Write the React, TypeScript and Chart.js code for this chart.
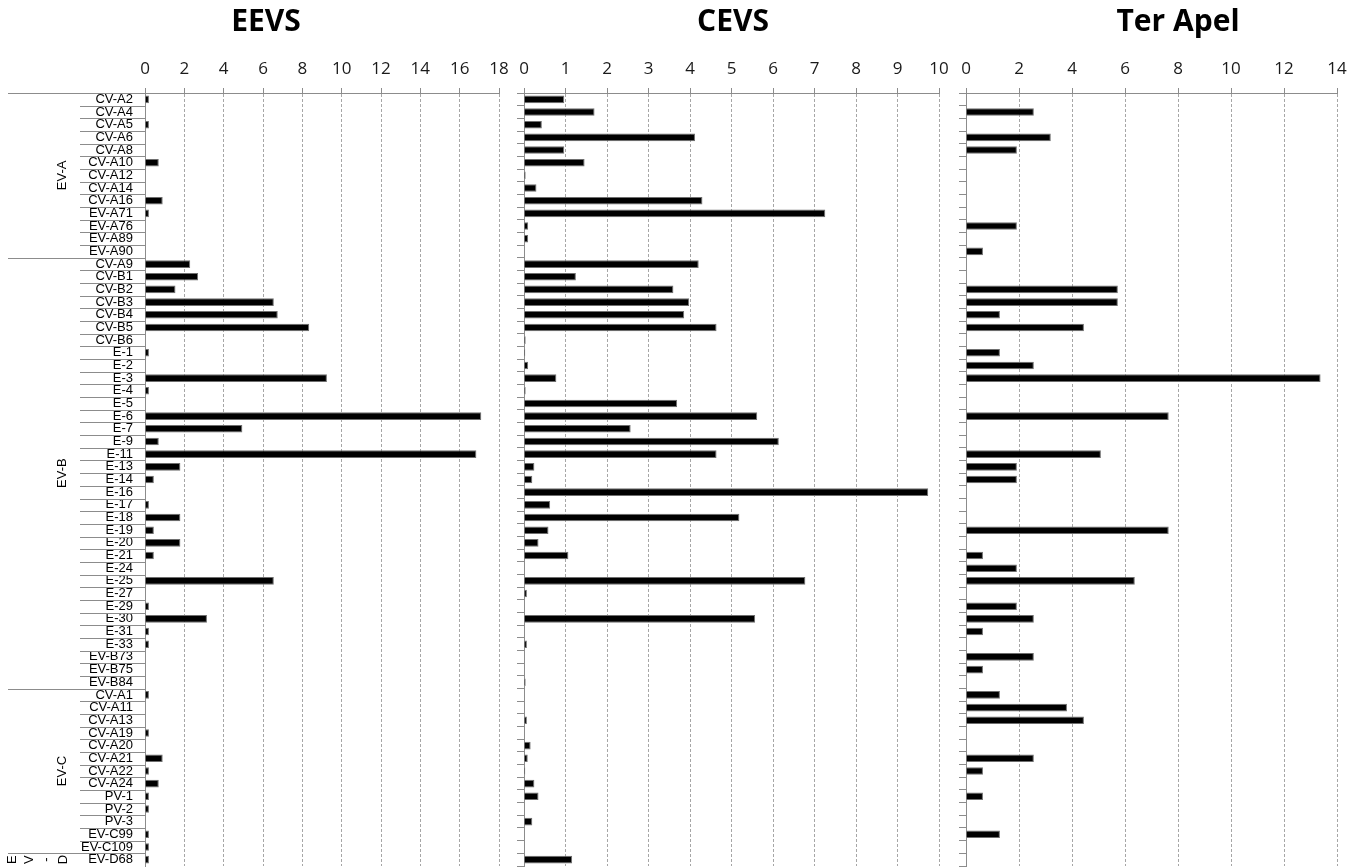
import React, { useEffect, useRef } from 'react';
import { Chart, registerables } from 'chart.js';

Chart.register(...registerables);

const categories = [
  'CV-A2', 'CV-A4', 'CV-A5', 'CV-A6', 'CV-A8', 'CV-A10', 'CV-A12', 'CV-A14', 'CV-A16', 'EV-A71', 'EV-A76', 'EV-A89', 'EV-A90',
  'CV-A9', 'CV-B1', 'CV-B2', 'CV-B3', 'CV-B4', 'CV-B5', 'CV-B6', 'E-1', 'E-2', 'E-3', 'E-4', 'E-5', 'E-6', 'E-7', 'E-9', 'E-11',
  'E-13', 'E-14', 'E-16', 'E-17', 'E-18', 'E-19', 'E-20', 'E-21', 'E-24', 'E-25', 'E-27', 'E-29', 'E-30', 'E-31', 'E-33',
  'EV-B73', 'EV-B75', 'EV-B84',
  'CV-A1', 'CV-A11', 'CV-A13', 'CV-A19', 'CV-A20', 'CV-A21', 'CV-A22', 'CV-A24', 'PV-1', 'PV-2', 'PV-3', 'EV-C99', 'EV-C109',
  'EV-D68',
];

const groupNames = ['EV-A', 'EV-B', 'EV-C', 'EV-D'];
const groupSizes = [13, 34, 13, 1];

const eevsValues = [
  0.2, 0, 0.2, 0, 0, 0.7, 0, 0, 0.9, 0.2, 0, 0, 0,
  2.3, 2.7, 1.55, 6.55, 6.75, 8.35, 0, 0.2, 0, 9.25, 0.2, 0, 17.1, 4.95, 0.7, 16.85,
  1.8, 0.45, 0, 0.2, 1.8, 0.45, 1.8, 0.45, 0, 6.55, 0, 0.2, 3.15, 0.2, 0.2,
  0, 0, 0,
  0.2, 0, 0, 0.2, 0, 0.9, 0.2, 0.7, 0.2, 0.2, 0, 0.2, 0.2,
  0.2,
];

const cevsValues = [
  0.97, 1.7, 0.43, 4.12, 0.97, 1.46, 0.04, 0.3, 4.3, 7.26, 0.1, 0.1, 0,
  4.21, 1.25, 3.6, 3.98, 3.86, 4.64, 0.04, 0.03, 0.1, 0.78, 0.04, 3.69, 5.62, 2.57, 6.14, 4.64,
  0.25, 0.2, 9.74, 0.63, 5.19, 0.59, 0.35, 1.07, 0, 6.78, 0.07, 0, 5.57, 0, 0.07,
  0, 0, 0.04,
  0, 0, 0.07, 0, 0.16, 0.09, 0.03, 0.25, 0.35, 0, 0.2, 0, 0,
  1.16,
];

const terApelValues = [
  0, 2.56, 0, 3.2, 1.92, 0, 0, 0, 0, 0, 1.92, 0, 0.64,
  0, 0, 5.73, 5.73, 1.28, 4.45, 0, 1.28, 2.56, 13.38, 0, 0, 7.65, 0, 0, 5.09,
  1.92, 1.92, 0, 0, 0, 7.65, 0, 0.64, 1.92, 6.37, 0, 1.92, 2.56, 0.64, 0,
  2.56, 0.64, 0,
  1.28, 3.81, 4.45, 0, 0, 2.56, 0.64, 0, 0.64, 0, 0, 1.28, 0,
  0,
];

const GRID = '#a6a6a6';
const AXIS = '#8c8c8c';
const LABEL_FONT = "'Liberation Sans', Arial, sans-serif";
const TICK_FONT = "'Open Sans', sans-serif";

const panelTitlePlugin = {
  id: 'panelTitle',
  afterDraw(chart: any, _args: any, opts: any) {
    const { ctx } = chart;
    ctx.save();
    ctx.fillStyle = '#000';
    ctx.font = `bold 30px ${TICK_FONT}`;
    ctx.textAlign = 'center';
    ctx.textBaseline = 'middle';
    ctx.fillText(opts.text, opts.x, opts.y);
    ctx.restore();
  },
};

const groupPlugin = {
  id: 'categoryGroups',
  afterDraw(chart: any) {
    const { ctx, chartArea, scales } = chart;
    const y = scales.y;
    const left = chartArea.left;
    const half = (y.getPixelForValue(1) - y.getPixelForValue(0)) / 2;
    ctx.save();
    ctx.strokeStyle = AXIS;
    ctx.lineWidth = 1;
    const hline = (x1: number, x2: number, py: number) => {
      const yy = Math.round(py) + 0.5;
      ctx.beginPath();
      ctx.moveTo(x1, yy);
      ctx.lineTo(x2, yy);
      ctx.stroke();
    };
    for (let i = 1; i < categories.length; i++) {
      hline(80, left, y.getPixelForValue(i) - half);
    }
    ctx.fillStyle = '#000';
    ctx.font = `13px ${LABEL_FONT}`;
    ctx.textAlign = 'center';
    ctx.textBaseline = 'middle';
    let start = 0;
    groupSizes.forEach((size, g) => {
      hline(8, left, y.getPixelForValue(start) - half);
      const mid = (y.getPixelForValue(start) + y.getPixelForValue(start + size - 1)) / 2;
      const name = groupNames[g];
      const avail = size * half * 2;
      const w = ctx.measureText(name).width;
      if (w < avail) {
        ctx.save();
        ctx.translate(62, mid);
        ctx.rotate(-Math.PI / 2);
        ctx.fillText(name, 0, 0);
        ctx.restore();
      } else {
        const chars = name.split('');
        const step = 17;
        const x0 = 63 - step * (chars.length - 1);
        chars.forEach((c, k) => {
          ctx.save();
          ctx.translate(x0 + k * step, mid);
          ctx.rotate(-Math.PI / 2);
          ctx.fillText(c, 0, 0);
          ctx.restore();
        });
      }
      start += size;
    });
    ctx.restore();
  },
};

type PanelProps = {
  title: string;
  titleX: number;
  values: number[];
  max: number;
  step: number;
  left: number;
  width: number;
  yWidth: number;
  padRight: number;
  showLabels: boolean;
};

function Panel({ title, titleX, values, max, step, left, width, yWidth, padRight, showLabels }: PanelProps) {
  const ref = useRef<HTMLCanvasElement | null>(null);
  useEffect(() => {
    if (!ref.current) return;
    const chart = new Chart(ref.current, {
      type: 'bar',
      data: {
        labels: categories,
        datasets: [
          {
            data: values,
            backgroundColor: '#000',
            borderColor: '#6e6e6e',
            borderWidth: 1,
            categoryPercentage: 1,
            barPercentage: 0.6,
          },
        ],
      },
      options: {
        indexAxis: 'y',
        responsive: false,
        animation: false,
        layout: { padding: { left: 0, right: padRight, top: 58, bottom: 1 } },
        plugins: {
          legend: { display: false },
          tooltip: { enabled: false },
          title: { display: false },
          panelTitle: { text: title, x: titleX - left, y: 22 },
        },
        scales: {
          x: {
            type: 'linear',
            position: 'top',
            min: 0,
            max,
            ticks: {
              stepSize: step,
              color: '#1a1a1a',
              font: { family: TICK_FONT, size: 17 },
              padding: 9,
            },
            grid: {
              color: GRID,
              lineWidth: 1,
              drawTicks: true,
              tickLength: 5,
              tickColor: AXIS,
              tickBorderDash: [],
            },
            border: { display: true, color: AXIS, width: 1, dash: [3, 2] },
            afterFit: (s: any) => {
              s.height = 35;
              s.paddingLeft = 0;
              s.paddingRight = 0;
            },
          },
          y: {
            type: 'category',
            position: 'left',
            ticks: showLabels
              ? {
                  display: true,
                  autoSkip: false,
                  color: '#000',
                  font: { family: LABEL_FONT, size: 13 },
                  padding: 12,
                }
              : { display: false },
            grid: showLabels
              ? { display: false, drawTicks: false }
              : {
                  display: true,
                  offset: true,
                  drawOnChartArea: false,
                  drawTicks: true,
                  tickLength: 7,
                  tickColor: AXIS,
                  color: AXIS,
                },
            border: { display: true, color: AXIS, width: 1 },
            afterFit: (s: any) => {
              s.width = yWidth;
              s.paddingTop = 0;
              s.paddingBottom = 0;
            },
          },
        },
      },
      plugins: showLabels ? [groupPlugin, panelTitlePlugin] : [panelTitlePlugin],
    } as any);
    return () => chart.destroy();
  }, []);
  return (
    <canvas
      ref={ref}
      width={width}
      height={867}
      style={{ position: 'absolute', left, top: 0, width, height: 867 }}
    />
  );
}

export default function App() {
  return (
    <div
      style={{
        position: 'fixed',
        left: 0,
        top: 0,
        width: 1349,
        height: 867,
        overflow: 'hidden',
        background: '#fff',
      }}
    >
      <Panel title="EEVS" titleX={266} values={eevsValues} max={18} step={2} left={0} width={532} yWidth={145} padRight={33} showLabels={true} />
      <Panel title="CEVS" titleX={733} values={cevsValues} max={10} step={1} left={510} width={446} yWidth={14} padRight={17} showLabels={false} />
      <Panel title="Ter Apel" titleX={1178} values={terApelValues} max={14} step={2} left={945} width={404} yWidth={21} padRight={12} showLabels={false} />
    </div>
  );
}
